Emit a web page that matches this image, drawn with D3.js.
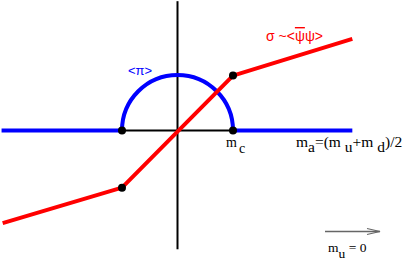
<!DOCTYPE html>
<html>
<head>
<meta charset="utf-8">
<script src="https://cdn.jsdelivr.net/npm/d3@7"></script>
<style>
  body { margin: 0; background: #fff; }
  .serif { font-family: "Liberation Serif", "DejaVu Serif", serif; }
  .sans { font-family: "Liberation Sans", "DejaVu Sans", sans-serif; }
</style>
</head>
<body>
<script>
var width = 415,
    height = 261;

// data, in units of m_c
var sigmaPts = [[-3.15, -1.67], [-1, -1.03], [1, 0.99], [3.15, 1.65]];
var piLeft = [[-3.17, 0], [-1, 0]],
    piRight = [[1, 0], [3.15, 0]],
    piRadius = 1;
var gap = [[-1, 0], [1, 0]];
var dots = [[-1, 0], [1, 0], [-1, -1.03], [1, 0.99]];
var yAxisExtent = [2.33, -2.14];

var x = d3.scaleLinear().domain([0, 1]).range([177.5, 233]),
    y = d3.scaleLinear().domain([0, 1]).range([130.5, 75]);

var line = d3.line()
    .x(function(d) { return x(d[0]); })
    .y(function(d) { return y(d[1]); });

var svg = d3.select("body").append("svg")
    .attr("width", width)
    .attr("height", height);

// vertical axis
svg.append("line")
    .attr("x1", x(0)).attr("x2", x(0))
    .attr("y1", y(yAxisExtent[0])).attr("y2", y(yAxisExtent[1]))
    .attr("stroke", "#000").attr("stroke-width", 2);

// black segment between the dots
svg.append("path").datum(gap)
    .attr("d", line)
    .attr("fill", "none").attr("stroke", "#000").attr("stroke-width", 2);

// <pi> : flat parts and the half circle
[piLeft, piRight].forEach(function(seg) {
  svg.append("path").datum(seg)
      .attr("d", line)
      .attr("fill", "none").attr("stroke", "#0000ff").attr("stroke-width", 4);
});
var r = x(piRadius) - x(0);
var arc = d3.path();
arc.arc(x(0), y(0), r, Math.PI, 2 * Math.PI);
svg.append("path")
    .attr("d", arc.toString())
    .attr("fill", "none").attr("stroke", "#0000ff").attr("stroke-width", 4);

// sigma
svg.append("path").datum(sigmaPts)
    .attr("d", line)
    .attr("fill", "none").attr("stroke", "#ff0000").attr("stroke-width", 4)
    .attr("stroke-linejoin", "round");

svg.selectAll("circle.dot")
    .data(dots)
  .enter().append("circle")
    .attr("class", "dot")
    .attr("cx", function(d) { return x(d[0]); })
    .attr("cy", function(d) { return y(d[1]); })
    .attr("r", 4)
    .attr("fill", "#000");

// labels
var sig = svg.append("text").attr("class", "sans")
    .attr("x", 266).attr("y", 41)
    .attr("font-size", 14).attr("fill", "#ff0000");
sig.append("tspan").text("σ ~<");
sig.append("tspan").attr("text-decoration", "overline").text("ψ");
sig.append("tspan").text("ψ>");

svg.append("text").attr("class", "sans")
    .attr("x", 128).attr("y", 75)
    .attr("font-size", 13).attr("fill", "#0000ff")
    .text("<π>");

var mc = svg.append("text").attr("class", "serif")
    .attr("x", 226).attr("y", 147).attr("font-size", 14);
mc.append("tspan").text("m");
mc.append("tspan").attr("dx", 2).attr("dy", 6).text("c");

var ma = svg.append("text").attr("class", "serif")
    .attr("x", 296).attr("y", 147).attr("font-size", 15.5);
ma.append("tspan").text("m");
ma.append("tspan").attr("dy", 5).text("a");
ma.append("tspan").attr("dy", -5).text("=(m ");
ma.append("tspan").attr("dy", 5).text("u");
ma.append("tspan").attr("dy", -5).text("+m ");
ma.append("tspan").attr("dy", 5).text("d");
ma.append("tspan").attr("dy", -5).text(")/2");

// arrow
svg.append("line")
    .attr("x1", 325).attr("x2", 380).attr("y1", 231.5).attr("y2", 231.5)
    .attr("stroke", "#666").attr("stroke-width", 1.5);
svg.append("path")
    .attr("d", "M367,228.5L380,231.5L367,234.5")
    .attr("fill", "none").attr("stroke", "#666").attr("stroke-width", 1.2);

var mu = svg.append("text").attr("class", "serif")
    .attr("x", 328).attr("y", 252).attr("font-size", 13.5);
mu.append("tspan").text("m");
mu.append("tspan").attr("dy", 6).text("u");
mu.append("tspan").attr("dy", -6).text(" = 0");
</script>
</body>
</html>
